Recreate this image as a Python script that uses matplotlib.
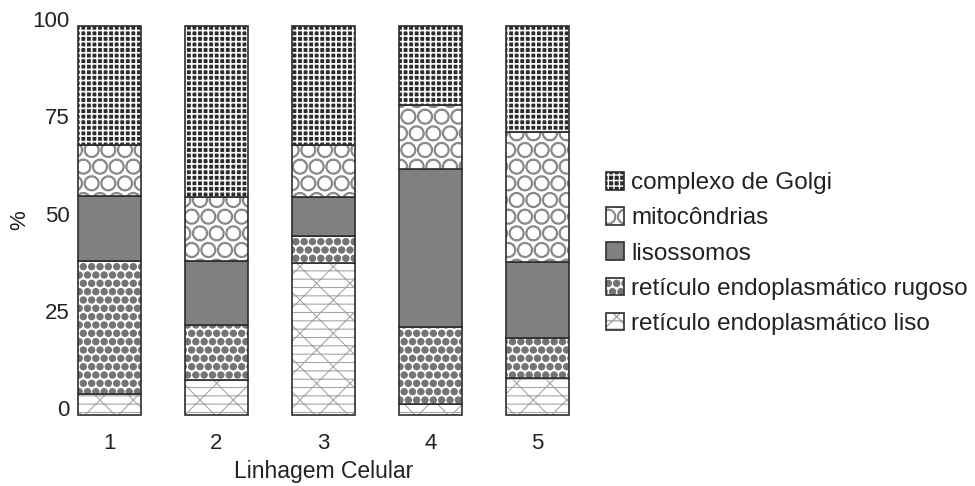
import numpy as np
import matplotlib
matplotlib.use('Agg')
import matplotlib.pyplot as plt
import matplotlib.hatch as mhatch
from matplotlib.patches import Patch
from matplotlib.transforms import ScaledTranslation

# bigger dots / rings for the hatch patterns
mhatch.SmallFilledCircles.size = 0.36
mhatch.LargeCircles.size = 0.44

plt.rcParams['font.family'] = ['Liberation Sans', 'DejaVu Sans']

# data (percent per cell line)
linhagens = ['1', '2', '3', '4', '5']
ret_liso = [5.5, 9.0, 39.0, 2.7, 9.6]
ret_rugoso = [34.1, 14.1, 7.0, 20.0, 10.3]
lisossomos = [16.7, 16.5, 10.1, 40.5, 19.5]
mitocondrias = [13.1, 16.5, 13.3, 16.4, 33.4]
golgi = [30.6, 43.9, 30.6, 20.4, 27.2]

series = [
    ('retículo endoplasmático liso', ret_liso),
    ('retículo endoplasmático rugoso', ret_rugoso),
    ('lisossomos', lisossomos),
    ('mitocôndrias', mitocondrias),
    ('complexo de Golgi', golgi),
]
# face, hatch, hatch colour, hatch linewidth
styles = {
    'retículo endoplasmático liso': ('white', 'x--', '#a6a6a6', 0.8),
    'retículo endoplasmático rugoso': ('white', '..', '#747474', 1.0),
    'lisossomos': ('#808080', '', '#808080', 1.0),
    'mitocôndrias': ('white', 'O', '#8a8a8a', 1.1),
    'complexo de Golgi': ('#2c2c2c', '+++', 'white', 1.2),
}
edge = '#2e2e2e'
fs = 16
fs_leg = 17.5

fig = plt.figure(figsize=(9.75, 4.86), dpi=100)
ax = fig.add_axes([74/975, 71/486, 499/975, 389/486])

x = np.arange(1, len(linhagens) + 1)
w = 0.59
bottom = np.zeros(len(x))
handles = {}
for name, vals in series:
    face, hatch, hcol, hlw = styles[name]
    with plt.rc_context({'hatch.linewidth': hlw}):
        ax.bar(x, vals, w, bottom=bottom, color=face, edgecolor=hcol,
               hatch=hatch, linewidth=0, clip_on=False)
        h1 = Patch(facecolor=face, edgecolor=hcol, hatch=hatch, linewidth=0)
    ax.bar(x, vals, w, bottom=bottom, fill=False, edgecolor=edge,
           linewidth=1.2, clip_on=False)
    h2 = Patch(fill=False, edgecolor=edge, linewidth=1.2)
    handles[name] = (h1, h2)
    bottom += np.array(vals)

ax.set_xlim(0.668, 5.332)
ax.set_ylim(0, 100)
ax.set_xticks(x)
ax.set_xticklabels(linhagens)
ax.set_yticks([0, 25, 50, 75, 100])
ax.tick_params(length=0, labelsize=fs, colors='#222222')
ax.tick_params(axis='x', pad=13)
ax.tick_params(axis='y', pad=3)
for sp in ax.spines.values():
    sp.set_visible(False)

# y labels sit a little above their values in the original
shift = ScaledTranslation(0, 7/100, fig.dpi_scale_trans)
for lab in ax.get_yticklabels():
    lab.set_transform(lab.get_transform() + shift)

ax.set_xlabel('Linhagem Celular', fontsize=16.5, color='#222222', labelpad=4)
ax.set_ylabel('%', fontsize=fs, color='#222222', labelpad=2)

order = ['complexo de Golgi', 'mitocôndrias', 'lisossomos',
         'retículo endoplasmático rugoso', 'retículo endoplasmático liso']
fig.legend([handles[n] for n in order], order,
           loc='upper left', bbox_to_anchor=(606/975, 1 - 172/486),
           frameon=False, fontsize=fs_leg, handlelength=0.74, handleheight=0.74,
           handletextpad=0.3, labelspacing=0.53, borderpad=0, borderaxespad=0,
           labelcolor='#222222')

fig.savefig('out.png', dpi=100)
